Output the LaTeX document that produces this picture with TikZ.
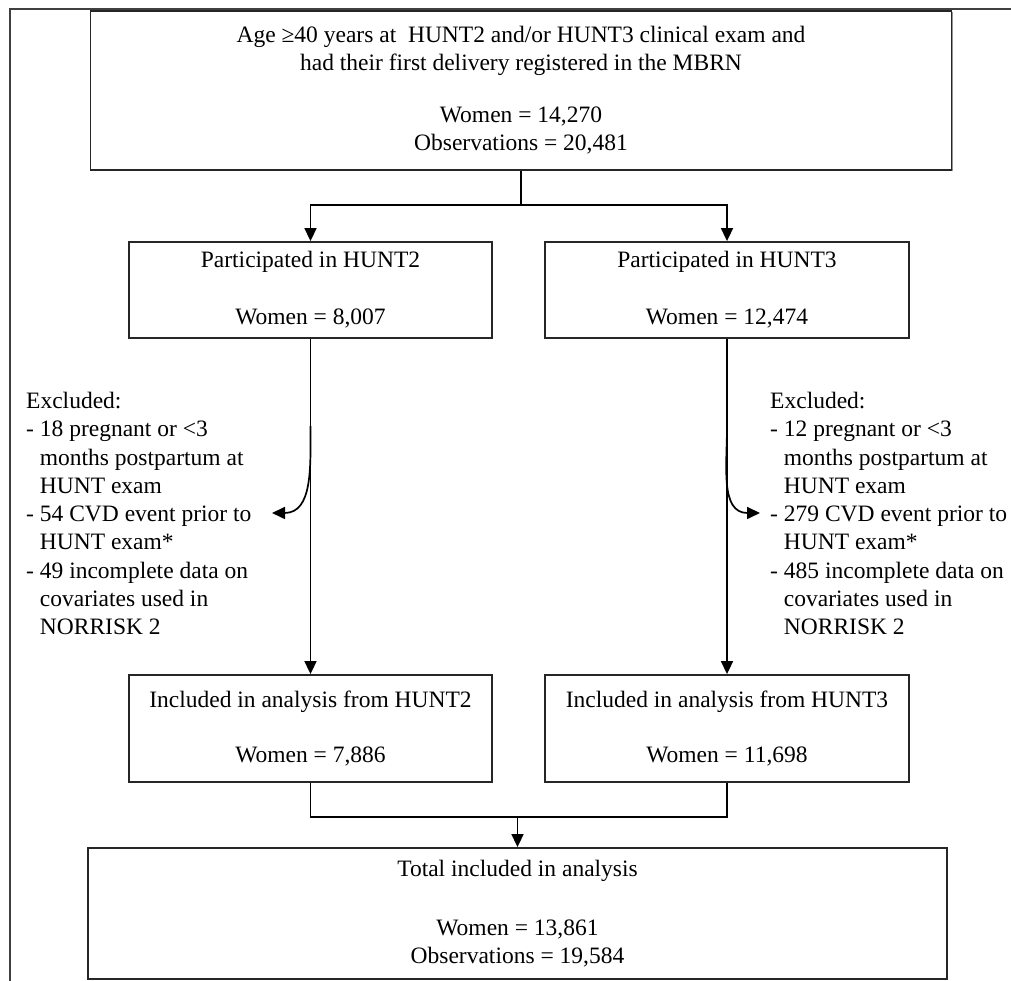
\documentclass[tikz,border=0pt]{standalone}
\usepackage{fontspec}
\setmainfont{Liberation Serif}
\usepackage{tikz}
\usetikzlibrary{arrows.meta}
\usetikzlibrary{shadows}
\tikzset{
    mybox/.style = {rectangle, line width=1.8pt, draw=black!85, fill=white, align=center, inner sep=0pt,
                    drop shadow={shadow xshift=1.2pt, shadow yshift=-1.2pt, fill=black!70, opacity=0.6},
                    font=\fontsize{23.5}{28}\selectfont},
    mytext/.style = {anchor=north west, align=left, inner sep=0pt, font=\fontsize{23.5}{28.3}\selectfont},
    edgen/.style = {-, line width=1.7pt, black},
    edgea/.style = {-{Triangle[length=13pt,width=12pt]}, line width=1.7pt, black},
    myframe/.style = {line width=1.8pt, black!75}
}

\begin{document}
\begin{tikzpicture}[x=1pt,y=1pt]
\useasboundingbox (0,0) rectangle (1011,981);
\fill[white] (0,0) rectangle (1011,981);
\draw[myframe] (10,-20) -- (10,972) -- (1040,972);

\node[mybox, minimum width=861, minimum height=159] at (521, 890.5) (top) {Age ≥40 years at\ \ HUNT2 and/or HUNT3 clinical exam and\\had their first delivery registered in the MBRN\\[24pt]Women = 14,270\\Observations = 20,481};
\node[mybox, minimum width=363, minimum height=96] at (310.5, 691) (p2) {Participated in HUNT2\\[29pt]Women = 8,007};
\node[mybox, minimum width=364, minimum height=96] at (727, 691) (p3) {Participated in HUNT3\\[29pt]Women = 12,474};
\node[mybox, minimum width=363, minimum height=107] at (310.5, 252.5) (i2) {Included in analysis from HUNT2\\[27pt]Women = 7,886};
\node[mybox, minimum width=364, minimum height=107] at (727, 252.5) (i3) {Included in analysis from HUNT3\\[27pt]Women = 11,698};
\node[mybox, minimum width=859, minimum height=131] at (517.5, 67.5) (tot) {Total included in analysis\\[31pt]Women = 13,861\\Observations = 19,584};

\node[mytext] at (26, 589) (ex2) {Excluded:\\- 18 pregnant or <3\\\phantom{- }months postpartum at\\\phantom{- }HUNT exam\\- 54 CVD event prior to\\\phantom{- }HUNT exam*\\- 49 incomplete data on\\\phantom{- }covariates used in\\\phantom{- }NORRISK 2};
\node[mytext] at (770, 589) (ex3) {Excluded:\\- 12 pregnant or <3\\\phantom{- }months postpartum at\\\phantom{- }HUNT exam\\- 279 CVD event prior to\\\phantom{- }HUNT exam*\\- 485 incomplete data on\\\phantom{- }covariates used in\\\phantom{- }NORRISK 2};

\coordinate (split) at (521, 776);
\coordinate (join) at (517.5, 164);
\coordinate (c2) at (310.5, 555);
\coordinate (t2) at (272, 468);
\coordinate (c3) at (727, 555);
\coordinate (t3) at (760, 468);

% top to HUNT2 / HUNT3
\draw[edgen] (top.south) -- (split);
\draw[edgea] (split) -| (p2.north);
\draw[edgea] (split) -| (p3.north);

% down to included
\draw[edgea] (p2.south) -- (i2.north);
\draw[edgea] (p3.south) -- (i3.north);

% exclusions
\draw[edgea] (c2) to[out=-90, in=0, looseness=1.1] (t2);
\draw[edgea] (c3) to[out=-90, in=180, looseness=1.1] (t3);

% join to total
\draw[edgen] (i2.south) |- (join) -| (i3.south);
\draw[edgea] (join) -- (tot.north);

\end{tikzpicture}
\end{document}
